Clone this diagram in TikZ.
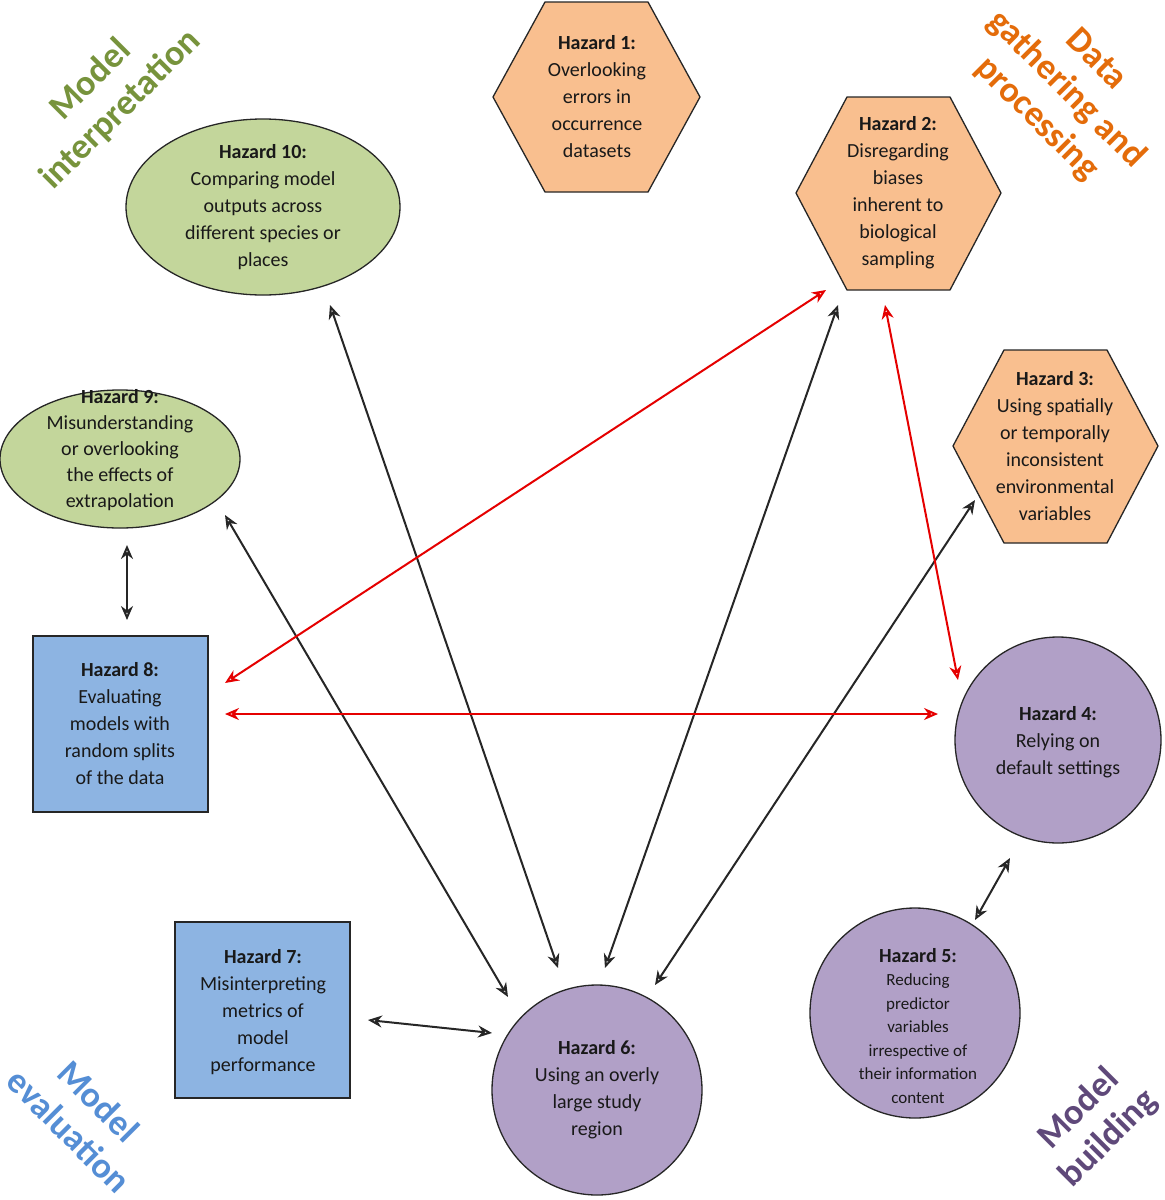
\documentclass[tikz,border=0pt]{standalone}
\usepackage{fontspec}
\setmainfont{Carlito}
\usetikzlibrary{arrows.meta}
\definecolor{org}{HTML}{F9BF8F}
\definecolor{grn}{HTML}{C3D69B}
\definecolor{blu}{HTML}{8DB4E2}
\definecolor{pur}{HTML}{B1A0C7}
\definecolor{tgrn}{HTML}{77933C}
\definecolor{torg}{HTML}{E46C0A}
\definecolor{tblu}{HTML}{558ED5}
\definecolor{tpur}{HTML}{5F497A}
\begin{document}
\begin{tikzpicture}[x=1pt,y=-1pt,
  shp/.style={draw=black!85,line width=1.3pt},
  txt/.style={align=center,font=\fontsize{20}{27}\selectfont,text=black!90},
  arr/.style={<->,>={Stealth[length=14pt,width=12pt,open]},line width=2pt},
  bk/.style={arr,black!85},
  rd/.style={arr,red!90!black},
  corner/.style={align=center,font=\bfseries\fontsize{36}{42}\selectfont}]
\useasboundingbox (0,0) rectangle (1165,1200);
\fill[white] (0,0) rectangle (1165,1200);
% hexagons
\draw[shp,fill=org] (545,2)--(648,2)--(700,97)--(648,192)--(545,192)--(493,97)--cycle;
\draw[shp,fill=org] (847,97)--(950,97)--(1001,193)--(950,290)--(847,290)--(796,193)--cycle;
\draw[shp,fill=org] (1004,350)--(1107,350)--(1158,446)--(1107,543)--(1004,543)--(953,446)--cycle;
\node[txt] (h1) at (597,97) {\textbf{Hazard 1:}\\Overlooking\\errors in\\occurrence\\datasets};
\node[txt] (h2) at (898,193) {\textbf{Hazard 2:}\\Disregarding\\biases\\inherent to\\biological\\sampling};
\node[txt] (h3) at (1055,446) {\textbf{Hazard 3:}\\Using spatially\\or temporally\\inconsistent\\environmental\\variables};
% ellipses
\draw[shp,fill=grn] (263,207) ellipse [x radius=137,y radius=88];
\node[txt] (h10) at (263,207) {\textbf{Hazard 10:}\\Comparing model\\outputs across\\different species or\\places};
\draw[shp,fill=grn] (120,459) ellipse [x radius=120,y radius=69];
\node[txt,font=\fontsize{20}{26}\selectfont] (h9) at (120,450) {\textbf{Hazard 9:}\\Misunderstanding\\or overlooking\\the effects of\\extrapolation};
% rectangles
\draw[shp,fill=blu] (33,636) rectangle (208,812);
\node[txt] (h8) at (120,724) {\textbf{Hazard 8:}\\Evaluating\\models with\\random splits\\of the data};
\draw[shp,fill=blu] (175,922) rectangle (350,1098);
\node[txt] (h7) at (263,1012) {\textbf{Hazard 7:}\\Misinterpreting\\metrics of\\model\\performance};
% circles
\draw[shp,fill=pur] (1058,740) circle (103);
\node[txt] (h4) at (1058,742) {\textbf{Hazard 4:}\\Relying on\\default settings};
\draw[shp,fill=pur] (915,1013) circle (105);
\node[txt,font=\fontsize{17}{23.5}\selectfont] (h5) at (918,1026) {{\fontsize{20}{23}\selectfont\textbf{Hazard 5:}}\\Reducing\\predictor\\variables\\irrespective of\\their information\\content};
\draw[shp,fill=pur] (597,1090) circle (105);
\node[txt] (h6) at (597,1090) {\textbf{Hazard 6:}\\Using an overly\\large study\\region};
% arrow endpoints
\coordinate (a10) at (330,305); \coordinate (b10) at (558,968);
\coordinate (a9) at (225,515); \coordinate (b9) at (508,997);
\coordinate (a98) at (127,545); \coordinate (b98) at (127,620);
\coordinate (a7) at (368,1020); \coordinate (b7) at (492,1033);
\coordinate (a2) at (838,305); \coordinate (b2) at (605,968);
\coordinate (a3) at (975,500); \coordinate (b3) at (655,985);
\coordinate (a45) at (1010,858); \coordinate (b45) at (975,920);
\coordinate (r1a) at (826,290); \coordinate (r1b) at (225,683);
\coordinate (r2a) at (225,714); \coordinate (r2b) at (938,714);
\coordinate (r3a) at (885,305); \coordinate (r3b) at (958,680);
\draw[bk] (a10)--(b10);
\draw[bk] (a9)--(b9);
\draw[bk] (a98)--(b98);
\draw[bk] (a7)--(b7);
\draw[bk] (a2)--(b2);
\draw[bk] (a3)--(b3);
\draw[bk] (a45)--(b45);
\draw[rd] (r1a)--(r1b);
\draw[rd] (r2a)--(r2b);
\draw[rd] (r3a)--(r3b);
% corner labels
\node[corner,text=tgrn,rotate=45] (c1) at (106,95) {Model\\interpretation};
\node[corner,text=torg,rotate=-45] (c2) at (1066,90) {Data\\gathering and\\processing};
\node[corner,text=tblu,rotate=-45] (c3) at (84,1116) {Model\\evaluation};
\node[corner,text=tpur,rotate=45] (c4) at (1094,1124) {Model\\building};
\end{tikzpicture}
\end{document}
